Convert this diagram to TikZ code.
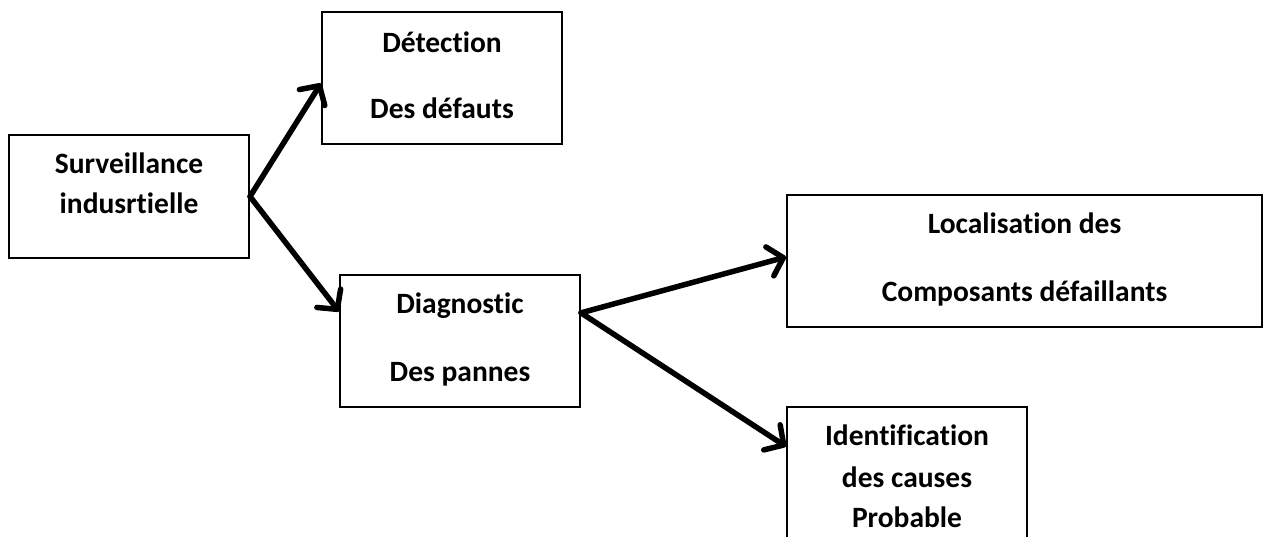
\documentclass[tikz,border=0pt]{standalone}
\usepackage{fontspec}
\setmainfont{Carlito}[RawFeature={-liga}]
\usetikzlibrary{arrows.meta,calc}
\begin{document}
\begin{tikzpicture}[x=1pt,y=-1pt,
  box/.style={draw=black,line width=2pt,rectangle,inner sep=0pt},
  txt/.style={anchor=base,inner sep=0pt,font=\fontsize{29.5}{35}\selectfont\bfseries},
  link/.style={line width=5.5pt,line cap=round,line join=round,
    -{Straight Barb[length=14pt,width=30pt,line width=5.5pt,round]}}]
\useasboundingbox (0,0) rectangle (1266,536);
\fill[white] (0,0) rectangle (1266,536);

% boxes
\node[box,minimum width=240pt,minimum height=123pt] (A) at (129,196.5) {};
\node[box,minimum width=240pt,minimum height=132pt] (B) at (442,78) {};
\node[box,minimum width=240pt,minimum height=132pt] (C) at (460,341) {};
\node[box,minimum width=475pt,minimum height=132pt] (D) at (1024.5,261) {};
\node[box,minimum width=240pt,minimum height=160pt] (E) at (907,487) {};

% labels
\node[txt] (a1) at (129,173) {Surveillance};
\node[txt] (a2) at (129,213) {indusrtielle};
\node[txt] (b1) at (442,52) {Détection};
\node[txt] (b2) at (442,118) {Des défauts};
\node[txt] (c1) at (460,313) {Diagnostic};
\node[txt] (c2) at (460,381) {Des pannes};
\node[txt] (d1) at (1024.5,233) {Localisation des};
\node[txt] (d2) at (1024.5,301) {Composants défaillants};
\node[txt] (e1) at (907,445) {Identification};
\node[txt] (e2) at (907,487) {des causes};
\node[txt] (e3) at (907,527) {Probable};

% connectors
\coordinate (cs) at ($(C.north east)!0.29!(C.south east)$);
\draw[link] (A.east) -- ($(B.north west)!0.54!(B.south west)$);
\draw[link] (A.east) -- ($(C.north west)!0.28!(C.south west)$);
\draw[link] (cs) -- ($(D.north west)!0.47!(D.south west)$);
\draw[link] (cs) -- ($(E.north west)!0.25!(E.south west)$);
\end{tikzpicture}
\end{document}
